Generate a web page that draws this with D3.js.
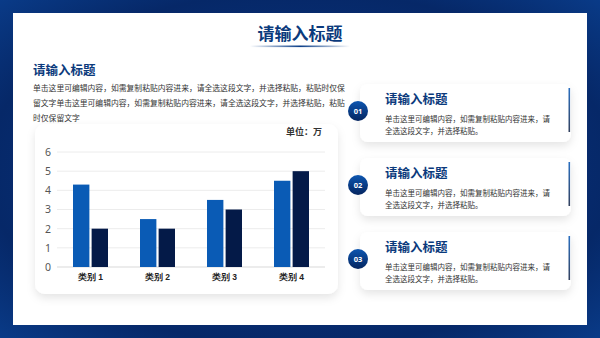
<!DOCTYPE html>
<html>
<head>
<meta charset="utf-8">
<script src="https://cdn.jsdelivr.net/npm/d3@7"></script>
<style>
  html, body { margin: 0; padding: 0; background: #062a6b; }
  svg { display: block; font-family: "Noto Sans CJK SC", "Noto Sans", sans-serif; }
</style>
</head>
<body>
<div class="canvas"></div>
<script>
const categories = ['类别 1', '类别 2', '类别 3', '类别 4']
const series1 = [4.3, 2.5, 3.5, 4.5]
const series2 = [2, 2, 3, 5]
const yTicks = [0, 1, 2, 3, 4, 5, 6]
const cardNumbers = ['01', '02', '03']

const pageTitle = '请输入标题'
const introLines = [
  '单击这里可编辑内容，如需复制粘贴内容进来，请全选这段文字，并选择粘贴，粘贴时仅保',
  '留文字单击这里可编辑内容，如需复制粘贴内容进来，请全选这段文字，并选择粘贴，粘贴',
  '时仅保留文字'
]
const cardLines = ['单击这里可编辑内容，如需复制粘贴内容进来，请', '全选这段文字，并选择粘贴。']

const width = 600, height = 338
const svg = d3.select('.canvas').append('svg')
  .attr('width', width).attr('height', height)

const defs = svg.append('defs')

// background gradient
const bg = defs.append('radialGradient').attr('id', 'bg')
  .attr('cx', '50%').attr('cy', '50%').attr('r', '75%')
bg.append('stop').attr('offset', '0%').attr('stop-color', '#0a3a8c')
bg.append('stop').attr('offset', '70%').attr('stop-color', '#062868')
bg.append('stop').attr('offset', '100%').attr('stop-color', '#0a3f8f')

const underline = defs.append('linearGradient').attr('id', 'underline')
underline.append('stop').attr('offset', '0%').attr('stop-color', '#0b3e88').attr('stop-opacity', 0)
underline.append('stop').attr('offset', '50%').attr('stop-color', '#0b3e88')
underline.append('stop').attr('offset', '100%').attr('stop-color', '#0b3e88').attr('stop-opacity', 0)

const accent = defs.append('linearGradient').attr('id', 'accent')
  .attr('x1', 0).attr('y1', 0).attr('x2', 0).attr('y2', 1)
accent.append('stop').attr('offset', '0%').attr('stop-color', '#2a6fc0')
accent.append('stop').attr('offset', '100%').attr('stop-color', '#33415e')

const circleGrad = defs.append('linearGradient').attr('id', 'circleGrad')
  .attr('x1', 0).attr('y1', 0).attr('x2', 0).attr('y2', 1)
circleGrad.append('stop').attr('offset', '0%').attr('stop-color', '#0d56b0')
circleGrad.append('stop').attr('offset', '100%').attr('stop-color', '#05255f')

const shadow = defs.append('filter').attr('id', 'shadow')
  .attr('x', '-20%').attr('y', '-20%').attr('width', '140%').attr('height', '160%')
shadow.append('feDropShadow').attr('dx', 0).attr('dy', 4).attr('stdDeviation', 4)
  .attr('flood-color', '#000').attr('flood-opacity', 0.1)

svg.append('rect').attr('width', width).attr('height', height).attr('fill', 'url(#bg)')

// white panel
svg.append('rect')
  .attr('x', 13).attr('y', 13).attr('width', 574).attr('height', 312)
  .attr('fill', '#fff')

// page title
svg.append('text')
  .attr('x', 300).attr('y', 40)
  .attr('text-anchor', 'middle')
  .attr('font-size', 17).attr('font-weight', 'bold')
  .attr('fill', '#0b3a7c')
  .text(pageTitle)

svg.append('rect')
  .attr('x', 250).attr('y', 45.5).attr('width', 100).attr('height', 1.6)
  .attr('fill', 'url(#underline)')

// left block
svg.append('text')
  .attr('x', 33).attr('y', 75)
  .attr('font-size', 12.5).attr('font-weight', 'bold')
  .attr('fill', '#0b3a7c')
  .text(pageTitle)

svg.append('g').selectAll('text')
  .data(introLines)
  .join('text')
  .attr('x', 33)
  .attr('y', (d, i) => 91 + i * 15)
  .attr('font-size', 7.8)
  .attr('fill', '#333')
  .text(d => d)

// chart card
svg.append('rect')
  .attr('x', 35).attr('y', 124).attr('width', 303).attr('height', 170)
  .attr('rx', 10)
  .attr('fill', '#fff')
  .attr('filter', 'url(#shadow)')

svg.append('text')
  .attr('x', 322).attr('y', 135)
  .attr('text-anchor', 'end')
  .attr('font-size', 9).attr('font-weight', 'bold')
  .attr('fill', '#333')
  .text('单位：万')

const plot = {left: 57, right: 325, top: 152, bottom: 267}

const x = d3.scaleBand()
  .domain(categories)
  .range([plot.left, plot.right])
  .paddingInner(0)

const y = d3.scaleLinear()
  .domain([0, 6])
  .range([plot.bottom, plot.top])

const chart = svg.append('g')

chart.append('g')
  .selectAll('line')
  .data(yTicks)
  .join('line')
  .attr('x1', plot.left).attr('x2', plot.right)
  .attr('y1', d => y(d)).attr('y2', d => y(d))
  .attr('stroke', d => d === 0 ? '#d9d9d9' : '#ececec')
  .attr('stroke-width', 1)

const yAxis = chart.append('g')
  .attr('transform', `translate(${plot.left - 6}, 0)`)
  .call(d3.axisLeft(y).tickValues(yTicks).tickFormat(d3.format('d')).tickSize(0).tickPadding(0))
yAxis.select('.domain').remove()
yAxis.selectAll('text')
  .attr('font-size', 10.5)
  .attr('font-family', '"Noto Sans", sans-serif')
  .attr('fill', '#555')

const xAxis = chart.append('g')
  .attr('transform', `translate(0, ${plot.bottom})`)
  .call(d3.axisBottom(x).tickSize(0).tickPadding(7))
xAxis.select('.domain').remove()
xAxis.selectAll('text')
  .attr('font-size', 8.5)
  .attr('font-weight', 'bold')
  .attr('fill', '#222')

const inner = d3.scaleBand()
  .domain(['a', 'b'])
  .range([0, 35])
  .paddingInner(0.12)

const bars = [
  {key: 'a', values: series1, color: '#0a5bb5'},
  {key: 'b', values: series2, color: '#041a48'}
]

bars.forEach(s => {
  chart.append('g').selectAll('rect')
    .data(categories)
    .join('rect')
    .attr('x', d => x(d) + x.bandwidth() / 2 - 17.5 + inner(s.key))
    .attr('y', (d, i) => y(s.values[i]))
    .attr('width', inner.bandwidth())
    .attr('height', (d, i) => y(0) - y(s.values[i]))
    .attr('fill', s.color)
})

// right cards
const cardTop = d3.scaleBand()
  .domain(cardNumbers)
  .range([84, 306])

const cards = svg.append('g').selectAll('g')
  .data(cardNumbers)
  .join('g')
  .attr('transform', d => `translate(0, ${cardTop(d)})`)

cards.append('rect')
  .attr('x', 360).attr('y', 0).attr('width', 211).attr('height', 58)
  .attr('rx', 8)
  .attr('fill', '#fff')
  .attr('filter', 'url(#shadow)')

cards.append('rect')
  .attr('x', 568.5).attr('y', 4).attr('width', 1.6).attr('height', 44)
  .attr('fill', 'url(#accent)')

cards.append('circle')
  .attr('cx', 358).attr('cy', 27).attr('r', 10)
  .attr('fill', 'url(#circleGrad)')

cards.append('text')
  .attr('x', 358).attr('y', 30)
  .attr('text-anchor', 'middle')
  .attr('font-size', 7.5).attr('font-weight', 'bold')
  .attr('font-family', '"Noto Sans", sans-serif')
  .attr('fill', '#fff')
  .text(d => d)

cards.append('text')
  .attr('x', 385).attr('y', 19.5)
  .attr('font-size', 12.5).attr('font-weight', 'bold')
  .attr('fill', '#0b3a7c')
  .text(pageTitle)

cards.each(function () {
  d3.select(this).selectAll('text.line')
    .data(cardLines)
    .join('text')
    .attr('class', 'line')
    .attr('x', 385)
    .attr('y', (d, i) => 38 + i * 11.5)
    .attr('font-size', 7.5)
    .attr('fill', '#333')
    .text(d => d)
})
</script>
</body>
</html>
